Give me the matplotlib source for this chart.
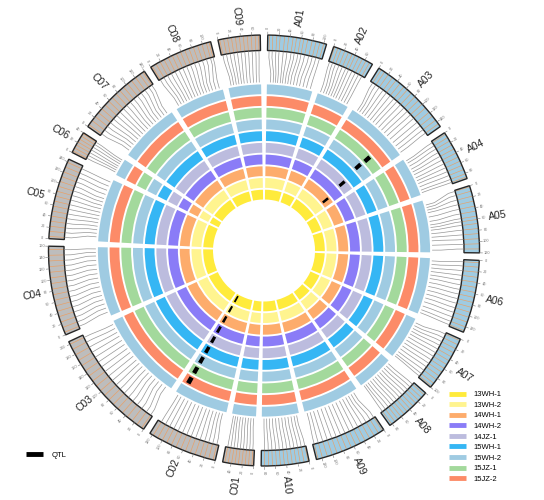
import numpy as np
import matplotlib.pyplot as plt
from matplotlib.lines import Line2D

plt.rcParams['font.family'] = ['Liberation Sans', 'DejaVu Sans']

# chromosomes (clockwise from top) and their lengths in cM
chroms = ['A01', 'A02', 'A03', 'A04', 'A05', 'A06', 'A07', 'A08', 'A09', 'A10',
          'C01', 'C02', 'C03', 'C04', 'C05', 'C06', 'C07', 'C08', 'C09']
lengths = [105, 75, 150, 90, 120, 130, 100, 85, 130, 85,
           55, 125, 205, 160, 145, 40, 140, 115, 75]

# marker positions on the genetic map (orange stripes, link starts)
marker_cm = [
    [3, 9, 16, 22, 30, 37, 45, 51, 58, 64, 71, 79, 86, 93, 100],
    [2, 8, 14, 21, 28, 35, 41, 48, 55, 62, 69],
    [5, 12, 20, 29, 37, 46, 55, 63, 72, 81, 90, 99, 108, 118, 127, 136, 144],
    [3, 10, 17, 25, 33, 41, 49, 57, 65, 73, 81, 87],
    [2, 10, 19, 28, 37, 46, 55, 61, 68, 77, 86, 95, 104, 113],
    [4, 12, 21, 30, 39, 48, 57, 66, 75, 84, 93, 102, 111, 120, 127],
    [3, 11, 19, 27, 35, 43, 51, 59, 67, 75, 83, 91, 97],
    [4, 11, 18, 25, 32, 39, 46, 53, 60, 67, 74, 81],
    [3, 11, 20, 29, 38, 47, 56, 65, 74, 83, 92, 101, 110, 119, 127],
    [2, 9, 16, 23, 30, 37, 44, 51, 58, 65, 72, 79],
    [3, 9, 15, 21, 27, 33, 39, 45, 51],
    [4, 12, 20, 28, 37, 46, 55, 64, 73, 82, 91, 100, 109, 118],
    [4, 14, 25, 36, 47, 58, 69, 80, 91, 102, 113, 124, 135, 146, 157, 168, 179, 190, 200],
    [5, 14, 24, 34, 44, 54, 64, 74, 84, 94, 104, 114, 124, 134, 144, 154],
    [4, 13, 22, 31, 40, 49, 58, 67, 76, 85, 94, 103, 112, 121, 130, 139],
    [3, 9, 15, 21, 27, 33, 38],
    [4, 13, 22, 31, 40, 49, 58, 67, 76, 85, 94, 103, 112, 121, 130, 137],
    [3, 11, 19, 27, 35, 43, 51, 59, 67, 75, 83, 91, 99, 107, 112],
    [3, 10, 17, 24, 31, 38, 45, 52, 59, 66, 72],
]
# matching positions on the inner rings (link ends)
phys_cm = [
    [8, 14, 19, 24, 30, 35, 41, 47, 53, 60, 67, 74, 82, 90, 99],
    [5, 12, 18, 24, 30, 36, 42, 49, 56, 63, 70],
    [10, 16, 23, 30, 38, 46, 54, 62, 71, 80, 89, 98, 108, 118, 128, 137, 146],
    [6, 12, 20, 28, 35, 42, 50, 57, 64, 72, 80, 86],
    [12, 18, 24, 30, 40, 50, 58, 64, 70, 78, 86, 94, 104, 115],
    [6, 14, 22, 30, 38, 46, 55, 64, 73, 82, 91, 100, 110, 119, 126],
    [8, 15, 22, 29, 36, 44, 52, 60, 68, 76, 84, 91, 96],
    [6, 13, 20, 27, 34, 41, 48, 55, 62, 69, 75, 80],
    [10, 17, 24, 31, 39, 47, 56, 65, 74, 83, 92, 101, 110, 118, 125],
    [6, 12, 19, 26, 33, 40, 47, 54, 61, 68, 74, 80],
    [5, 11, 17, 23, 29, 35, 41, 46, 51],
    [8, 15, 22, 30, 38, 46, 55, 64, 73, 82, 91, 100, 109, 117],
    [12, 22, 32, 42, 52, 62, 72, 82, 92, 102, 113, 124, 135, 146, 157, 168, 178, 188, 198],
    [10, 20, 30, 40, 50, 60, 70, 80, 90, 100, 110, 120, 130, 140, 148, 156],
    [10, 18, 26, 34, 42, 50, 58, 66, 74, 82, 90, 98, 108, 118, 128, 138],
    [5, 10, 15, 20, 26, 31, 36],
    [10, 18, 26, 34, 42, 50, 58, 66, 74, 82, 90, 98, 106, 114, 122, 130],
    [8, 15, 22, 29, 36, 43, 50, 57, 64, 71, 78, 85, 92, 100, 108],
    [7, 13, 19, 25, 31, 37, 44, 51, 58, 65, 71],
]

tracks = ['13WH-1', '13WH-2', '14WH-1', '14WH-2', '14JZ-1',
          '15WH-1', '15WH-2', '15JZ-1', '15JZ-2']
track_colors = ['#ffeb3b', '#fff48f', '#fdac6c', '#8a7cf7', '#bcbcde',
                '#35b6f4', '#9fcbe2', '#a3d99c', '#fc8b68']
outer_ring_color = '#9fcbe2'

# QTL: chromosome, position (cM), track
qtl_chrom = ['A03', 'A03', 'A03', 'A03'] + ['C02'] * 9
qtl_cm = [123, 114, 106, 108] + [110] * 9
qtl_track = ['14WH-1', '14JZ-1', '15WH-2', '15JZ-1'] + tracks

gap = 2.0
scale = (360 - gap * len(chroms)) / sum(lengths)
starts = []
a = gap / 2
for L in lengths:
    starts.append(a)
    a += L * scale + gap


def ang(i, cm):
    return np.deg2rad(starts[i] + cm * scale)


def radial_rot(deg):
    rot = 90 - deg
    if rot < -90:
        rot += 180
    return rot


fig = plt.figure(figsize=(5.44, 5.0), dpi=100)
cx, cy, R = 264, 250.5, 250
ax = fig.add_axes([(cx - R) / 544, (500 - cy - R) / 500, 2 * R / 544, 2 * R / 500],
                  projection='polar')
ax.set_theta_zero_location('N')
ax.set_theta_direction(-1)
ax.set_ylim(0, R)
ax.set_axis_off()

# track rings
r0, pitch, rw = 51, 11.7, 9.8
ring_colors = track_colors + [outer_ring_color]
for i, L in enumerate(lengths):
    th0 = ang(i, 0)
    span = np.deg2rad(L * scale)
    for k, c in enumerate(ring_colors):
        ax.bar(th0, rw, width=span, bottom=r0 + k * pitch, align='edge',
               color=c, edgecolor='none', linewidth=0)

# QTL marks
qw = np.deg2rad(12 * scale)
for ch, cm, tr in zip(qtl_chrom, qtl_cm, qtl_track):
    i = chroms.index(ch)
    k = tracks.index(tr)
    ax.bar(ang(i, cm), rw - 3.0, width=qw, bottom=r0 + k * pitch + 1.5,
           color='black', edgecolor='none', linewidth=0)

# links between ideogram and rings
for i in range(len(chroms)):
    for m, p in zip(marker_cm[i], phys_cm[i]):
        ax.plot([ang(i, m), ang(i, m), ang(i, p), ang(i, p)],
                [199.5, 193, 177, 168.5], color='#8a8a8a', lw=0.5, alpha=0.9)

# ideogram
ri, ro = 200, 215.5
for i, (name, L) in enumerate(zip(chroms, lengths)):
    th0 = ang(i, 0)
    span = np.deg2rad(L * scale)
    face = '#9fcbe2' if name.startswith('A') else '#bdbdbd'
    ax.bar(th0, ro - ri, width=span, bottom=ri, align='edge',
           color=face, edgecolor='none', linewidth=0)
    for m in marker_cm[i]:
        ax.bar(ang(i, m), ro - ri, width=np.deg2rad(0.18), bottom=ri,
               color='#f29a55', alpha=0.85, edgecolor='none', linewidth=0)
    ax.bar(th0, ro - ri, width=span, bottom=ri, align='edge',
           fill=False, edgecolor='#262626', linewidth=1.0)
    for v in range(0, L + 1, 20):
        t = ang(i, v)
        ax.plot([t, t], [ro, ro + 3], color='#777777', lw=0.4)
        ax.text(t, ro + 7, str(v), fontsize=2.8, color='#777777',
                rotation=radial_rot(np.rad2deg(t)), rotation_mode='anchor',
                ha='center', va='center')
    mid = starts[i] + L * scale / 2
    ax.text(np.deg2rad(mid), 236, name, fontsize=7.5, color='#222222',
            rotation=radial_rot(mid), rotation_mode='anchor',
            ha='center', va='center')

# legends
handles = [Line2D([], [], color=c, lw=3.5, solid_capstyle='butt') for c in track_colors]
fig.legend(handles, tracks, loc='upper left', bbox_to_anchor=(0.826, 0.218),
           frameon=False, fontsize=5.5, handlelength=2.2, handletextpad=1.0,
           labelspacing=0.42, borderpad=0, borderaxespad=0)
fig.legend([Line2D([], [], color='black', lw=3.5, solid_capstyle='butt')], ['QTL'],
           loc='center left', bbox_to_anchor=(0.048, 0.09),
           frameon=False, fontsize=5.5, handlelength=2.2, handletextpad=1.2,
           borderpad=0, borderaxespad=0)

fig.savefig('out.png', dpi=100)
